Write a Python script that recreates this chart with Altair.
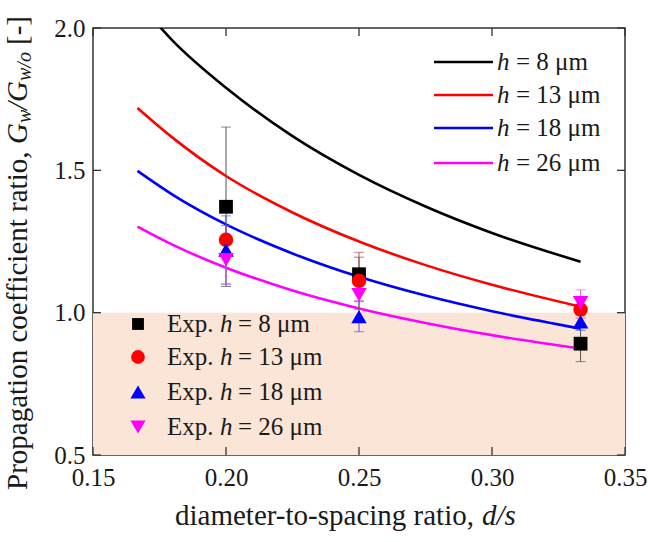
import altair as alt
import pandas as pd

# ---------------- data ----------------
curve_x = [0.1667, 0.18, 0.2, 0.225, 0.25, 0.275, 0.3, 0.3333]
curve_h8 = [2.095, 1.955, 1.790, 1.620, 1.484, 1.373, 1.280, 1.179]
curve_h13 = [1.719, 1.614, 1.480, 1.352, 1.250, 1.167, 1.098, 1.021]
curve_h18 = [1.498, 1.414, 1.310, 1.208, 1.126, 1.060, 1.005, 0.944]
curve_h26 = [1.302, 1.238, 1.158, 1.078, 1.015, 0.964, 0.921, 0.874]

exp_x = [0.2, 0.25, 0.3333]
exp_h8 = [1.372, 1.135, 0.891]
err_h8 = [0.280, 0.060, 0.063]
exp_h13 = [1.256, 1.112, 1.011]
err_h13 = [0.050, 0.100, 0.030]
exp_h18 = [1.220, 0.986, 0.968]
err_h18 = [0.120, 0.053, 0.030]
exp_h26 = [1.186, 1.063, 1.035]
err_h26 = [0.085, 0.020, 0.045]

h_labels = ["8", "13", "18", "26"]
band_lo = [0.5]
band_hi = [1.0]
x_ticks = [0.15, 0.20, 0.25, 0.30, 0.35]
y_ticks = [0.5, 1.0, 1.5, 2.0]

# ---------------- styling ----------------
W, H = 532, 427
FONT = "Liberation Serif"
TXT = "#1a1a1a"
colors = ["#000000", "#FF0000", "#0000FF", "#FF00FF"]
err_colors = ["#555555", "#C05050", "#5050E0", "#E060E0"]
shapes = ["square", "circle", "triangle-up", "triangle-down"]
sizes = [190, 210, 240, 240]
leg_sizes = [140, 190, 230, 230]

xs = alt.Scale(domain=[0.15, 0.35], nice=False, zero=False)
ys = alt.Scale(domain=[0.5, 2.0], nice=False, zero=False)
X_AX = alt.Axis(values=x_ticks, format=".2f", title=None, labelPadding=10,
                labelOverlap=False, labelFlush=False)
Y_AX = alt.Axis(values=y_ticks, format=".1f", title=None, labelPadding=8,
                labelOverlap=False, labelFlush=False)

curves = [curve_h8, curve_h13, curve_h18, curve_h26]
exps = [exp_h8, exp_h13, exp_h18, exp_h26]
errs = [err_h8, err_h13, err_h18, err_h26]

layers = []

# shaded region below ratio 1
band = alt.Chart(pd.DataFrame({"lo": band_lo, "hi": band_hi})).mark_rect(
    color="#FBE5D6").encode(
    x=alt.value(0), x2=alt.value(W),
    y=alt.Y("lo:Q", scale=ys, axis=Y_AX), y2="hi:Q")
layers.append(band)

# model curves
for vals, c in zip(curves, colors):
    df = pd.DataFrame({"x": curve_x, "y": vals})
    layers.append(alt.Chart(df).mark_line(
        color=c, strokeWidth=2.6, clip=True, interpolate="monotone").encode(
        x=alt.X("x:Q", scale=xs, axis=X_AX),
        y=alt.Y("y:Q", scale=ys, axis=Y_AX)))

# experimental points with error bars
for vals, e, c, ec in zip(exps, errs, colors, err_colors):
    df = pd.DataFrame({"x": exp_x, "y": vals, "e": e})
    base = alt.Chart(df).transform_calculate(
        lo="datum.y - datum.e", hi="datum.y + datum.e")
    bar = base.mark_rule(color=ec, strokeWidth=1).encode(
        x=alt.X("x:Q", scale=xs, axis=X_AX),
        y=alt.Y("lo:Q", scale=ys, axis=Y_AX), y2="hi:Q")
    cap_lo = base.mark_tick(color=ec, orient="horizontal", size=10, thickness=1).encode(
        x=alt.X("x:Q", scale=xs, axis=X_AX), y=alt.Y("lo:Q", scale=ys, axis=Y_AX))
    cap_hi = base.mark_tick(color=ec, orient="horizontal", size=10, thickness=1).encode(
        x=alt.X("x:Q", scale=xs, axis=X_AX), y=alt.Y("hi:Q", scale=ys, axis=Y_AX))
    layers += [bar, cap_lo, cap_hi]
for vals, c, sh, sz in zip(exps, colors, shapes, sizes):
    df = pd.DataFrame({"x": exp_x, "y": vals})
    layers.append(alt.Chart(df).mark_point(
        filled=True, shape=sh, size=sz, color=c, opacity=1).encode(
        x=alt.X("x:Q", scale=xs, axis=X_AX),
        y=alt.Y("y:Q", scale=ys, axis=Y_AX)))

# inward ticks on all four sides
tick_col = "#333333"
xt = alt.Chart(pd.DataFrame({"v": x_ticks}))
yt = alt.Chart(pd.DataFrame({"v": y_ticks}))
layers.append(xt.mark_rule(color=tick_col, strokeWidth=1.3).encode(
    x=alt.X("v:Q", scale=xs, axis=X_AX), y=alt.value(H), y2=alt.value(H - 8)))
layers.append(xt.mark_rule(color=tick_col, strokeWidth=1.3).encode(
    x=alt.X("v:Q", scale=xs, axis=X_AX), y=alt.value(0), y2=alt.value(8)))
layers.append(yt.mark_rule(color=tick_col, strokeWidth=1.3).encode(
    y=alt.Y("v:Q", scale=ys, axis=Y_AX), x=alt.value(0), x2=alt.value(8)))
layers.append(yt.mark_rule(color=tick_col, strokeWidth=1.3).encode(
    y=alt.Y("v:Q", scale=ys, axis=Y_AX), x=alt.value(W), x2=alt.value(W - 8)))


def txt(s, x, y, size=25, style="normal", angle=0, align="left", baseline="middle"):
    return alt.Chart(alt.Data(values=[{}])).mark_text(
        text=s, font=FONT, fontSize=size, fontStyle=style, angle=angle,
        align=align, baseline=baseline, color=TXT).encode(
        x=alt.value(x), y=alt.value(y))


def seg(x0, x1, y, c):
    return alt.Chart(alt.Data(values=[{}])).mark_rule(color=c, strokeWidth=2.6).encode(
        x=alt.value(x0), x2=alt.value(x1), y=alt.value(y))


def sym(x, y, c, sh, sz):
    return alt.Chart(alt.Data(values=[{}])).mark_point(
        filled=True, shape=sh, size=sz, color=c, opacity=1).encode(
        x=alt.value(x), y=alt.value(y))


# legend for model curves (top right)
rows1 = [34, 67, 100, 135]
for r, lab, c in zip(rows1, h_labels, colors):
    layers.append(seg(341, 400, r, c))
    layers.append(txt("h", 404, r, style="italic"))
    layers.append(txt("= " + lab + " \u03bcm", 423, r))

# legend for experiments (bottom left)
rows2 = [296, 329, 364, 399]
for r, lab, c, sh, sz in zip(rows2, h_labels, colors, shapes, leg_sizes):
    layers.append(sym(45, r, c, sh, sz))
    layers.append(txt("Exp.", 74, r))
    layers.append(txt("h", 127, r, style="italic"))
    layers.append(txt("= " + lab + " \u03bcm", 145, r))

# x-axis title
layers.append(txt("diameter-to-spacing ratio,", 82, 497, size=29, baseline="alphabetic"))
layers.append(txt("d/s", 389, 497, size=29, style="italic", baseline="alphabetic"))

# y-axis title (rotated, composed of pieces for italics / subscripts)
YX = -75
layers.append(txt("Propagation coefficient ratio,", YX, 462, size=29, angle=270))
layers.append(txt("G", YX, 116, size=29, style="italic", angle=270))
layers.append(txt("w", YX + 7, 95, size=20, style="italic", angle=270))
layers.append(txt("/G", YX, 82, size=29, style="italic", angle=270))
layers.append(txt("w/o", YX + 7, 53, size=20, style="italic", angle=270))
layers.append(txt("[-]", YX, 17, size=29, angle=270))

chart = alt.layer(*layers).properties(
    width=W, height=H,
    autosize=alt.AutoSizeParams(type="none"),
    padding={"left": 93, "top": 28, "right": 23, "bottom": 87},
).configure_view(
    stroke="#333333", strokeWidth=1.5
).configure_axis(
    domain=False, grid=False, ticks=False, tickSize=0,
    labelFont=FONT, labelFontSize=25, labelColor=TXT
)

chart.save("out.html", embed_options={"renderer": "svg", "actions": False})
